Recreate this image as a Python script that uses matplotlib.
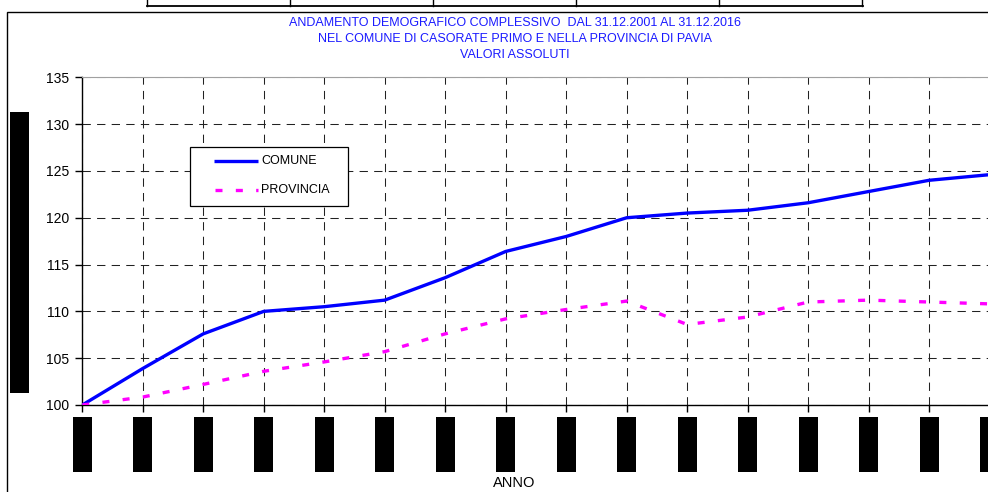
import matplotlib
matplotlib.use("Agg")
import matplotlib.pyplot as plt
from matplotlib import font_manager
from matplotlib.patches import Rectangle
from matplotlib.lines import Line2D
import matplotlib.transforms as mtransforms

# ---------------- data ----------------
years = [2001, 2002, 2003, 2004, 2005, 2006, 2007, 2008,
         2009, 2010, 2011, 2012, 2013, 2014, 2015, 2016]
comune = [100.0, 103.9, 107.6, 110.0, 110.5, 111.2, 113.6, 116.4,
          118.0, 120.0, 120.5, 120.8, 121.6, 122.8, 124.0, 124.6]
provincia = [100.0, 100.85, 102.2, 103.6, 104.6, 105.7, 107.6, 109.2,
             110.2, 111.1, 108.6, 109.4, 111.0, 111.2, 111.0, 110.8]
series_labels = ["COMUNE", "PROVINCIA"]
yticks = [100, 105, 110, 115, 120, 125, 130, 135]
title_lines = ["ANDAMENTO DEMOGRAFICO COMPLESSIVO  DAL 31.12.2001 AL 31.12.2016",
               "NEL COMUNE DI CASORATE PRIMO E NELLA PROVINCIA DI PAVIA",
               "VALORI ASSOLUTI"]
xlabel = "ANNO"

# ---------------- layout helpers ----------------
W, H = 988, 492
fig = plt.figure(figsize=(W / 100, H / 100), dpi=100)


def fx(px):
    return px / W


def fy(py):
    return 1 - py / H


names = {f.name for f in font_manager.fontManager.ttflist}
if "Liberation Sans Narrow" in names:
    nfont = dict(family="Liberation Sans Narrow", size=10.5)
else:
    nfont = dict(family="Liberation Sans", size=9)
rfont = "Liberation Sans"

# ---------------- axes ----------------
AX_L, AX_R, AX_T, AX_B = 82.3, 989.6, 77.3, 405.0
ax = fig.add_axes([fx(AX_L), fy(AX_B), fx(AX_R) - fx(AX_L), fy(AX_T) - fy(AX_B)])
x = list(range(len(years)))

ax.plot(x, comune, color="#0000ff", lw=2.4, solid_capstyle="butt",
        solid_joinstyle="round", zorder=3, label=series_labels[0])
ax.plot(x, provincia, color="#ff00ff", lw=2.4, linestyle=(0, (2.1, 4.0)),
        dash_capstyle="butt", zorder=3, label=series_labels[1])

ax.set_xlim(0, len(years) - 1)
ax.set_ylim(yticks[0], yticks[-1])
ax.set_yticks(yticks)
ax.set_yticklabels([str(v) for v in yticks], fontsize=10, family=rfont)
ax.set_xticks(x)
ax.set_xticklabels([str(y) for y in years], rotation=90, fontsize=9,
                   family=rfont, color="black")
ax.tick_params(axis="y", length=5, width=1, pad=4.5, direction="out")
ax.tick_params(axis="x", length=5, width=1, pad=13.5, direction="out")

# the last year label sits at the cropped right edge: keep it inside the canvas
last = ax.get_xticklabels()[-1]
last.set_fontsize(5)
last.set_transform(last.get_transform() +
                   mtransforms.ScaledTranslation(-5.5 / 100, 0, fig.dpi_scale_trans))

ax.set_axisbelow(True)
ax.grid(True, color="#222222", lw=0.75, linestyle=(0, (8, 6)))
ax.spines["top"].set_color("#a0a0a0")
ax.spines["top"].set_linewidth(0.8)
for s in ("left", "bottom"):
    ax.spines[s].set_color("black")
    ax.spines[s].set_linewidth(1.0)

# black boxes over the year tick labels
px_per_unit = (AX_R - AX_L) / (len(years) - 1)
hw = 9.5 / px_per_unit
blend = mtransforms.blended_transform_factory(ax.transData, fig.transFigure)
for xi in x:
    fig.add_artist(Rectangle((xi - hw, fy(471.7)), 2 * hw, fy(416.7) - fy(471.7),
                             transform=blend, facecolor="black",
                             edgecolor="none", clip_on=False, zorder=5))

# black box over the y axis label
fig.add_artist(Rectangle((fx(10), fy(393.3)), fx(29) - fx(10), fy(112.3) - fy(393.3),
                         transform=fig.transFigure, facecolor="black",
                         edgecolor="none", zorder=5))

# outer chart border
fig.add_artist(Rectangle((fx(7.3), fy(700)), fx(1200) - fx(7.3), fy(12.3) - fy(700),
                         transform=fig.transFigure, fill=False,
                         edgecolor="black", lw=1.0, zorder=1))

# partial table at the top
fig.add_artist(Line2D([fx(147), fx(863)], [fy(6), fy(6)],
                      transform=fig.transFigure, color="black", lw=1.3))
for tx in [147, 290, 433, 576, 719, 862]:
    fig.add_artist(Line2D([fx(tx), fx(tx)], [fy(-2), fy(6)],
                          transform=fig.transFigure, color="black", lw=1.0))

# title
for line, cy in zip(title_lines, [23.3, 38.8, 54.7]):
    fig.text(fx(515), fy(cy), line, ha="center", va="center",
             color="#1a1aff", **nfont)

# x label
fig.text(fx(513.7), fy(482.7), xlabel, ha="center", va="center",
         color="black", family=rfont, size=10.5)

# legend (manual)
fig.add_artist(Rectangle((fx(190), fy(205.7)), fx(348.3) - fx(190), fy(147.3) - fy(205.7),
                         transform=fig.transFigure, facecolor="white",
                         edgecolor="black", lw=0.9, zorder=6))
fig.add_artist(Line2D([fx(214.3), fx(258.3)], [fy(161), fy(161)],
                      transform=fig.transFigure, color="#0000ff", lw=2.4,
                      solid_capstyle="butt", zorder=7))
fig.add_artist(Line2D([fx(215), fx(258.3)], [fy(190), fy(190)],
                      transform=fig.transFigure, color="#ff00ff", lw=2.4,
                      linestyle=(0, (2.1, 4.0)), dash_capstyle="butt", zorder=7))
fig.text(fx(261.5), fy(161), series_labels[0], ha="left", va="center",
         color="black", zorder=8, **nfont)
fig.text(fx(261.5), fy(190), series_labels[1], ha="left", va="center",
         color="black", zorder=8, **nfont)

fig.savefig("out.png", dpi=100)
